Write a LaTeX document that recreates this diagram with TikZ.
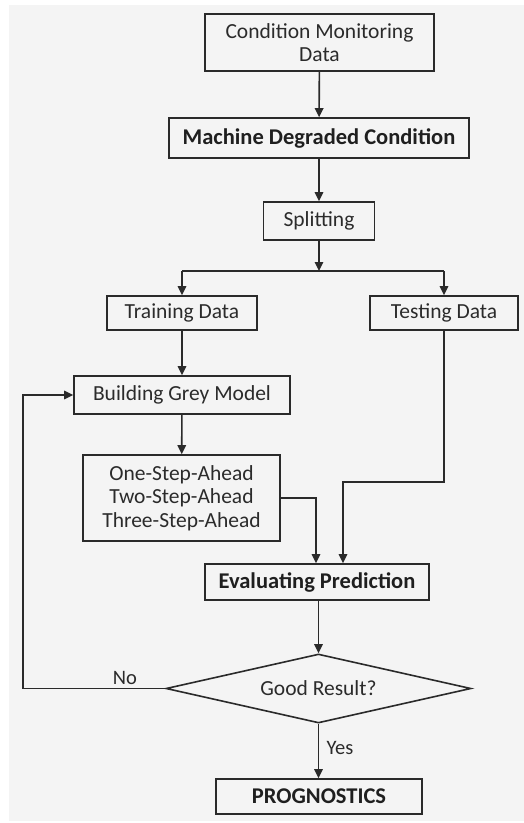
\documentclass[tikz,border=0pt]{standalone}
\usepackage{fontspec}
\setmainfont{Carlito}
\usetikzlibrary{arrows.meta,shapes.geometric}
\definecolor{bgc}{HTML}{F4F4F4}
\definecolor{lnc}{HTML}{2A2A2A}
\definecolor{txc}{HTML}{2B2B2B}
\tikzset{
  box/.style={draw=lnc,line width=1.6pt,fill=bgc,inner sep=0pt,align=center,text=txc,
    font=\fontsize{21.5}{23.5}\selectfont},
  bbox/.style={box,font=\fontsize{22.5}{23.5}\selectfont\bfseries,text=black!88},
  conn/.style={draw=lnc,line width=1.6pt},
  arr/.style={conn,-{Triangle[length=9pt,width=8.5pt]}},
  lbl/.style={text=txc,font=\fontsize{20.5}{22}\selectfont}
}
\begin{document}
\begin{tikzpicture}[x=1pt,y=-1pt]
\fill[white] (0,0) rectangle (524,823);
\fill[bgc] (9,5) rectangle (524,821);
\useasboundingbox (0,0) rectangle (524,823);

\node[box,minimum width=229pt,minimum height=57pt] (cmd) at (319.5,42.5) {Condition Monitoring\\Data};
\node[bbox,minimum width=300pt,minimum height=40pt] (mdc) at (319,138) {Machine Degraded Condition};
\node[box,minimum width=111pt,minimum height=38pt] (spl) at (319,221) {Splitting};
\node[box,minimum width=150pt,minimum height=34pt] (trn) at (182,313) {Training Data};
\node[box,minimum width=148pt,minimum height=34pt] (tst) at (444,313) {Testing Data};
\node[box,minimum width=216pt,minimum height=38pt] (bgm) at (182,395) {Building Grey Model};
\node[box,minimum width=197pt,minimum height=86pt] (stp) at (181.5,498) {One-Step-Ahead\\Two-Step-Ahead\\Three-Step-Ahead};
\node[bbox,minimum width=224pt,minimum height=36pt] (evp) at (317,582) {Evaluating Prediction};
\node[box,diamond,aspect=4.42,minimum width=305pt,minimum height=69pt] (dec) at (318.5,688.5) {Good Result?};
\node[bbox,minimum width=206pt,minimum height=35pt] (prg) at (319,796.5) {PROGNOSTICS};

\coordinate (j) at (319,271);
\coordinate (s1) at (316,498);
\coordinate (t1) at (444,482);
\coordinate (t2) at (343,482);
\coordinate (n1) at (23,688.5);

\draw[arr] (cmd) -- (mdc);
\draw[arr] (mdc) -- (spl);
\draw[arr] (spl) -- (j);
\draw[conn] (j -| trn) -- (j -| tst);
\draw[arr] (j -| trn) -- (trn);
\draw[arr] (j -| tst) -- (tst);
\draw[arr] (trn) -- (bgm);
\draw[arr] (bgm) -- (stp);
\draw[arr] (stp.east |- s1) -- (s1) -- (s1 |- evp.north);
\draw[arr] (tst) -- (t1) -- (t2) -- (t2 |- evp.north);
\draw[arr] (evp.south -| dec.north) -- (dec.north);
\draw[arr] (dec.south) -- node[lbl,right=4pt,pos=0.45] (yes) {Yes} (prg.north -| dec.south);
\draw[arr] (dec.west) -- (n1) |- (bgm.west);
\node[lbl] (no) at (125,678) {No};
\end{tikzpicture}
\end{document}
